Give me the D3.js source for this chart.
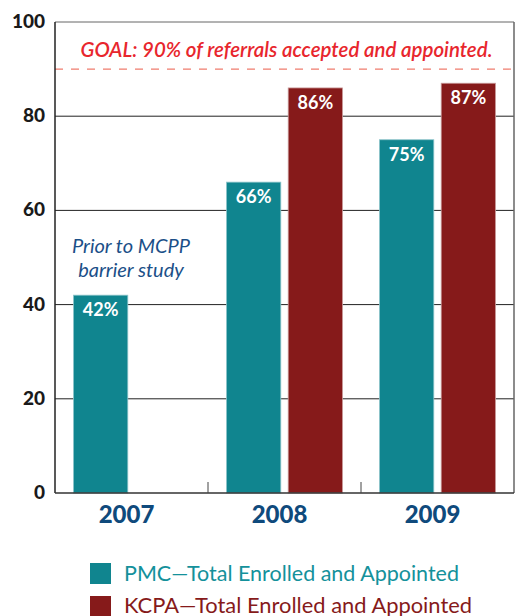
<!DOCTYPE html>
<html><head><meta charset="utf-8">
<script src="https://cdn.jsdelivr.net/npm/d3@7"></script>
<style>body{margin:0;background:#fff}svg{display:block}</style>
</head><body>
<svg id="c" width="519" height="616"></svg>
<script>
const years = ["2007","2008","2009"];
const pmc = [42,66,75];
const kcpa = [null,86,87];
const yTicks = [0,20,40,60,80,100];
const seriesNames = ["PMC\u2014Total Enrolled and Appointed","KCPA\u2014Total Enrolled and Appointed"];
const goal = 90;
const goalText = "GOAL: 90% of referrals accepted and appointed.";
const noteLines = ["Prior to MCPP","barrier study"];

const teal = "#10858F", red = "#861A1A", navy = "#0F4A7C";
const svg = d3.select("#c");
const L = 55, R = 514, T = 22, B = 493;
const x = d3.scaleBand().domain(years).range([L,R]);
const y = d3.scaleLinear().domain([0,100]).range([B,T]);
const inner = d3.scaleBand().domain(["pmc","kcpa"]).range([0, x.bandwidth()]).paddingInner(0.12).paddingOuter(0.3);

// grid lines
svg.append("g").selectAll("line").data(yTicks.filter(d=>d>0&&d<100)).join("line")
  .attr("x1",L).attr("x2",R).attr("y1",d=>y(d)).attr("y2",d=>y(d))
  .attr("stroke","#222").attr("stroke-width",1);
// top and right border
svg.append("line").attr("x1",L).attr("x2",R).attr("y1",T).attr("y2",T).attr("stroke","#666").attr("stroke-width",1);
svg.append("line").attr("x1",R).attr("x2",R).attr("y1",T).attr("y2",B).attr("stroke","#666").attr("stroke-width",1.5);

// goal line
svg.append("line").attr("x1",L).attr("x2",R).attr("y1",y(goal)).attr("y2",y(goal))
  .attr("stroke","#F07C6E").attr("stroke-width",1.2).attr("stroke-dasharray","8,8");
svg.append("text").attr("x",(L+R)/2+2).attr("y",y(goal)-12).attr("text-anchor","middle")
  .attr("font-family","Lato").attr("font-style","italic").attr("font-weight","600").attr("font-size",21).attr("fill","#E8262D")
  .attr("textLength",412).attr("lengthAdjust","spacingAndGlyphs").text(goalText);

// bars
const data = [];
years.forEach((yr,i)=>{
  data.push({yr,key:"pmc",v:pmc[i],c:teal});
  if(kcpa[i]!=null) data.push({yr,key:"kcpa",v:kcpa[i],c:red});
});
const g = svg.append("g");
g.selectAll("rect").data(data).join("rect")
  .attr("x",d=>x(d.yr)+inner(d.key)).attr("width",inner.bandwidth())
  .attr("y",d=>y(d.v)).attr("height",d=>y(0)-y(d.v))
  .attr("fill",d=>d.c).attr("stroke",d=>d.key==="pmc"?"#8CC4CA":"#C99A9A").attr("stroke-width",0.8);
g.selectAll("text").data(data).join("text")
  .attr("x",d=>x(d.yr)+inner(d.key)+inner.bandwidth()/2).attr("y",d=>y(d.v)+21)
  .attr("text-anchor","middle").attr("fill","#fff").attr("font-family","Lato").attr("font-weight","bold")
  .attr("font-size",18).text(d=>d.v+"%");

// axes
svg.append("line").attr("x1",L).attr("x2",L).attr("y1",T).attr("y2",B).attr("stroke","#222").attr("stroke-width",1.5);
svg.append("line").attr("x1",L).attr("x2",R).attr("y1",B).attr("y2",B).attr("stroke","#333").attr("stroke-width",1.5);
svg.append("g").selectAll("line").data(years.slice(1)).join("line")
  .attr("x1",d=>x(d)).attr("x2",d=>x(d)).attr("y1",B-11).attr("y2",B).attr("stroke","#444").attr("stroke-width",1);

svg.append("g").selectAll("text").data(yTicks).join("text")
  .attr("x",45).attr("y",d=>y(d)+6).attr("text-anchor","end")
  .attr("font-family","Lato").attr("font-weight","900").attr("font-size",19).attr("fill","#1a1a1a")
  .text(d=>d);
svg.append("g").selectAll("text").data(years).join("text")
  .attr("x",d=>x(d)+x.bandwidth()/2-5).attr("y",523).attr("text-anchor","middle")
  .attr("font-family","Lato").attr("font-weight","900").attr("font-size",24).attr("fill",navy)
  .text(d=>d);

// note
svg.append("g").selectAll("text").data(noteLines).join("text")
  .attr("x",131).attr("y",(d,i)=>253+i*24).attr("text-anchor","middle")
  .attr("font-family","Lato").attr("font-style","italic").attr("font-size",20).attr("fill","#1B4F88")
  .text(d=>d);

// legend
const lg = svg.append("g");
const legW = [335,348];
[teal,red].forEach((c,i)=>{
  lg.append("rect").attr("x",90).attr("y",563+i*33).attr("width",21).attr("height",21).attr("fill",c);
  lg.append("text").attr("x",124).attr("y",581+i*32).attr("font-family","Lato").attr("font-size",21)
    .attr("textLength",legW[i]).attr("lengthAdjust","spacingAndGlyphs")
    .attr("fill",c===teal?"#14919B":red).text(seriesNames[i]);
});
</script>
</body></html>
